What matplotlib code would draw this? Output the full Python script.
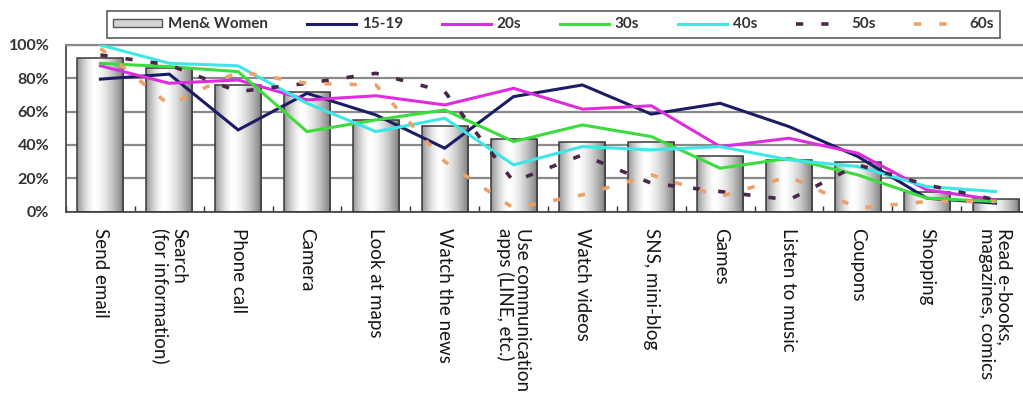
import numpy as np
import matplotlib
matplotlib.use("Agg")
import matplotlib.pyplot as plt
from matplotlib.patches import Patch
from matplotlib.lines import Line2D
from matplotlib.ticker import FixedLocator, PercentFormatter

categories = [
    "Send email", "Search\n(for information)", "Phone call", "Camera",
    "Look at maps", "Watch the news", "Use communication\napps (LINE, etc.)",
    "Watch videos", "SNS, mini-blog", "Games", "Listen to music",
    "Coupons", "Shopping", "Read e-books,\nmagazines, comics",
]

men_women = [92, 86, 76, 72, 55, 51.5, 43.5, 42, 42, 33.5, 31, 29.5, 12, 7.5]
age_15_19 = [79.5, 82.5, 49, 71, 58, 38, 69, 76, 58.5, 65, 51, 33, 8, 5]
age_20s = [87.5, 77, 79, 67, 69.5, 64, 74, 61.5, 63.5, 39, 44, 35, 13, 7]
age_30s = [89, 87, 84, 48, 55, 61, 42, 52, 45, 26, 32, 22, 8, 6]
age_40s = [100, 89, 87.5, 65, 48, 56, 28, 39, 37, 39, 31, 27, 15, 12]
age_50s = [94, 88, 72, 77, 83, 72, 18, 34, 17, 12, 7, 28, 16, 7]
age_60s = [98, 64, 84, 77, 76, 30, 2, 10, 22, 9, 21, 2, 6, 6]

yticks = [0, 20, 40, 60, 80, 100]

W, H = 1023, 394
fig = plt.figure(figsize=(W / 100, H / 100), dpi=100)
fig.patch.set_facecolor("white")

left_px, right_px, top_px, bottom_px = 66, 1030, 45, 211.5
ax = fig.add_axes([left_px / W, (H - bottom_px) / H,
                   (right_px - left_px) / W, (bottom_px - top_px) / H])

x = np.arange(len(categories))

# Bars with a cylinder-like horizontal shading
bars = ax.bar(x, men_women, width=0.67, facecolor="none",
              edgecolor="#3a3a3a", linewidth=1.1, zorder=3)
t = np.linspace(0, 1, 128)
shade = np.where(t < 0.38, 1 - 0.42 * ((0.38 - t) / 0.38) ** 1.6,
                 1 - 0.52 * ((t - 0.38) / 0.62) ** 1.6)
grad = np.vstack([shade, shade])
for b in bars:
    bx, by = b.get_x(), b.get_y()
    bw, bh = b.get_width(), b.get_height()
    im = ax.imshow(grad, extent=[bx, bx + bw, by, by + bh], cmap="gray",
                   vmin=0, vmax=1, aspect="auto", zorder=2,
                   interpolation="bilinear")
    im.set_clip_path(b)

series = [
    ("15-19", age_15_19, "#1c1c64"),
    ("20s", age_20s, "#dd2ddd"),
    ("30s", age_30s, "#3bdc3b"),
    ("40s", age_40s, "#3fe6e6"),
]
for name, vals, col in series:
    ax.plot(x, vals, color=col, lw=2.2, zorder=5, solid_joinstyle="miter")

dash = (2.0, 5.0)
ax.plot(x, age_50s, color="#4b2648", lw=2.6, dashes=dash, zorder=6,
        dash_capstyle="butt")
ax.plot(x, age_60s, color="#eea069", lw=2.6, dashes=dash, zorder=6,
        dash_capstyle="butt")

ax.set_xlim(-0.5, len(categories) - 0.5)
ax.set_ylim(0, 100)

ax.yaxis.set_major_locator(FixedLocator(yticks))
ax.yaxis.set_major_formatter(PercentFormatter(decimals=0))
ax.grid(axis="y", color="#8a8a8a", lw=1.6, zorder=1)
ax.set_axisbelow(True)

ax.set_xticks(x)
ax.set_xticklabels(categories, rotation=270, fontsize=13.5,
                   family=["Lato", "DejaVu Sans"], color="#161616",
                   linespacing=1.05, multialignment="left")
ax.tick_params(axis="x", which="major", length=0, pad=12)
ax.set_xticks(np.arange(len(categories) + 1) - 0.5, minor=True)
ax.tick_params(axis="x", which="minor", length=4, direction="in",
               color="#333333", width=1)
ax.tick_params(axis="y", length=0, pad=12)
for lab in ax.get_yticklabels():
    lab.set_fontsize(11.5)
    lab.set_fontweight("bold")
    lab.set_family(["Lato", "DejaVu Sans"])
    lab.set_color("#333333")

for s in ["left", "bottom"]:
    ax.spines[s].set_color("#4a4a4a")
    ax.spines[s].set_linewidth(1.3)
ax.spines["top"].set_color("#8a8a8a")
ax.spines["top"].set_linewidth(1.6)
ax.spines["right"].set_visible(False)

handles = [
    Patch(facecolor="#d4d4d4", edgecolor="#555555", linewidth=1.0),
    Line2D([], [], color="#1c1c64", lw=2.2),
    Line2D([], [], color="#dd2ddd", lw=2.2),
    Line2D([], [], color="#3bdc3b", lw=2.2),
    Line2D([], [], color="#3fe6e6", lw=2.2),
    Line2D([], [], color="#4b2648", lw=2.6, dashes=dash),
    Line2D([], [], color="#eea069", lw=2.6, dashes=dash),
]
labels = ["Men& Women", "15-19", "20s", "30s", "40s", "50s", "60s"]
leg = fig.legend(handles, labels, ncol=7, mode="expand",
                 bbox_to_anchor=(107 / W, (H - 41) / H, 893 / W, 33 / H),
                 loc="center", frameon=True, fancybox=False,
                 edgecolor="#444444", handlelength=3.2, handleheight=0.5,
                 handletextpad=0.4, columnspacing=1.0, borderaxespad=0,
                 prop={"family": ["Lato", "DejaVu Sans"], "weight": "bold",
                       "size": 11})
leg.get_frame().set_linewidth(1.3)
for txt in leg.get_texts():
    txt.set_color("#333333")

fig.savefig("out.png", dpi=100, facecolor="white")
